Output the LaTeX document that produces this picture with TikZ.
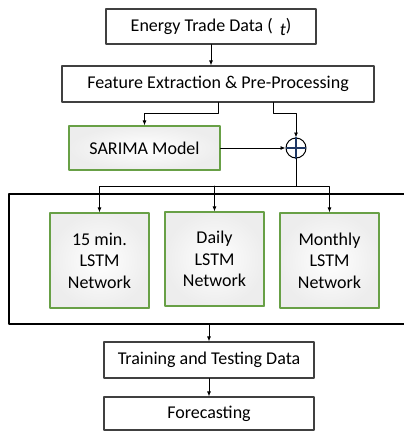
\documentclass[tikz,border=0pt]{standalone}
\usepackage{fontspec}
\setmainfont{Carlito}
\usepackage{xcolor}
\usetikzlibrary{arrows.meta, calc, shadows}
\definecolor{boxgreen}{RGB}{104,160,70}
\definecolor{plusblue}{RGB}{31,56,100}

\begin{document}
\begin{tikzpicture}[x=1pt, y=-1pt, line cap=round, line join=round,
	every node/.style={font=\fontsize{18}{21.5}\selectfont, align=center, inner sep=0pt},
	plainbox/.style={draw=black!75, line width=1.2pt, fill=white},
	greenbox/.style={draw=boxgreen, line width=1.2pt, inner color=white, outer color=black!7,
		drop shadow={shadow xshift=1.2pt, shadow yshift=-1.2pt, fill=black!40, opacity=0.6}},
	arr/.style={-{Latex[length=5pt,width=4pt]}, line width=0.8pt}]
				\useasboundingbox (0,0) rectangle (404,432);
				\clip (0,0) rectangle (404,432);
				
				\node[plainbox, minimum width=210, minimum height=35] (energy) at (211,26.5) {Energy Trade Data (\hspace{7pt}\raisebox{-4pt}{\itshape t})};
				\node[plainbox, minimum width=312, minimum height=36] (feature) at (218,84) {Feature Extraction \& Pre-Processing};
				\node[greenbox, minimum width=151, minimum height=44] (sarima) at (144.5,148) {SARIMA Model};
				\node[draw, circle, line width=1pt, minimum size=20, fill=white] (plus) at (296,148) {};
				\draw[plusblue, line width=1.5pt, shorten <=1pt, shorten >=1pt] (plus.north) -- (plus.south) (plus.west) -- (plus.east);
				
				\coordinate (frameNW) at (9,194);
				\coordinate (frameSW) at (9,324);
				\draw[line width=2pt] (frameNW -| 420,0) -- (frameNW) -- (frameSW) -- (frameSW -| 420,0);
				\node[greenbox, minimum width=99, minimum height=95] (lstmA) at (99.5,260.5) {15 min.\\LSTM\\Network};
				\node[greenbox, minimum width=99, minimum height=94] (lstmB) at (214.5,259) {Daily\\LSTM\\Network};
				\node[greenbox, minimum width=99, minimum height=95] (lstmC) at (329.5,260.5) {Monthly\\LSTM\\Network};
				
				\node[plainbox, minimum width=210, minimum height=36] (training) at (209,360) {Training and Testing Data};
				\node[plainbox, minimum width=210, minimum height=33] (forecast) at (209,413.5) {Forecasting};
				
				\coordinate (split) at (296,186);
				
				\draw[arr] (energy.south) -- (energy.south |- feature.north);
				\draw[arr] (feature.south) -- ++(0,11) -| (sarima.north);
				\draw[arr] ($(feature.south)+(55,0)$) -- ++(0,11) -| (plus.north);
				\draw[arr] (sarima.east) -- (plus.west);
				\draw[line width=0.8pt] (plus.south) -- (split);
				\draw[arr] (split) -| (lstmA.north);
				\draw[arr] (split) -| (lstmC.north);
				\draw[arr] (lstmB.north |- split) -- (lstmB.north);
				\draw[arr] ($(training.north |- frameSW)+(0,1)$) -- (training.north);
				\draw[arr] (training.south) -- (forecast.north);
			\end{tikzpicture}
\end{document}
